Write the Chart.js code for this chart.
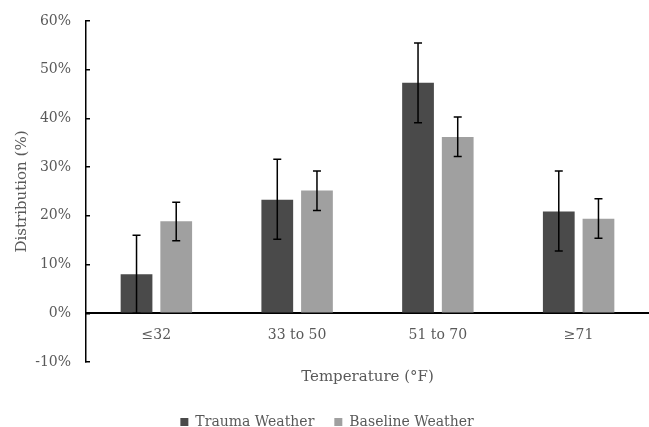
<!DOCTYPE html>
<html>
<head>
<meta charset="utf-8">
<script src="https://cdn.jsdelivr.net/npm/chart.js@4/dist/chart.umd.min.js"></script>
<style>
  html, body { margin: 0; padding: 0; background: #fff; }
  #wrap { width: 649px; height: 427px; position: relative; }
</style>
</head>
<body>
<div id="wrap"><canvas id="chart"></canvas></div>
<script>
// temperature bins (°F)
const tempLabels = ['≤32', '33 to 50', '51 to 70', '≥71'];

// distribution (%) with error bar ends
const traumaValues = [8.0, 23.3, 47.3, 20.9];
const traumaLow    = [0.0, 15.2, 39.1, 12.8];
const traumaHigh   = [16.0, 31.6, 55.5, 29.2];

const baselineValues = [18.9, 25.2, 36.2, 19.4];
const baselineLow    = [14.9, 21.1, 32.2, 15.4];
const baselineHigh   = [22.8, 29.2, 40.3, 23.5];

const errorRanges = [
    { low: traumaLow, high: traumaHigh },
    { low: baselineLow, high: baselineHigh }
];

const TEXT = '#595959';
const FONT = "'DejaVu Serif', serif";

// draw the error bars on top of each bar
const errorBarPlugin = {
    id: 'errorBars',
    afterDatasetsDraw(chart) {
        const ctx = chart.ctx;
        const y = chart.scales.y;
        ctx.save();
        ctx.strokeStyle = '#000';
        ctx.lineWidth = 1.5;
        chart.data.datasets.forEach((ds, i) => {
            const meta = chart.getDatasetMeta(i);
            const range = errorRanges[i];
            meta.data.forEach((bar, j) => {
                const top = y.getPixelForValue(range.high[j]);
                const bottom = y.getPixelForValue(range.low[j]);
                ctx.beginPath();
                ctx.moveTo(bar.x, top); ctx.lineTo(bar.x, bottom);
                ctx.moveTo(bar.x - 4, top); ctx.lineTo(bar.x + 4, top);
                ctx.moveTo(bar.x - 4, bottom); ctx.lineTo(bar.x + 4, bottom);
                ctx.stroke();
            });
        });
        ctx.restore();
    }
};

new Chart(document.getElementById('chart'), {
    type: 'bar',
    data: {
        labels: tempLabels,
        datasets: [
            { label: 'Trauma Weather', data: traumaValues, backgroundColor: '#4a4a4a' },
            { label: 'Baseline Weather', data: baselineValues, backgroundColor: '#a0a0a0' }
        ]
    },
    options: {
        responsive: true,
        maintainAspectRatio: false,
        animation: false,
        categoryPercentage: 0.564,
        barPercentage: 0.8,
        layout: { padding: { left: 0, right: -5, top: 21, bottom: -12 } },
        plugins: {
            tooltip: { enabled: false },
            legend: {
                position: 'bottom',
                // empty title only to push the legend row down below the axis title
                title: { display: true, text: '', font: { size: 10 }, padding: { top: 21, bottom: 0 } },
                labels: {
                    boxWidth: 8, boxHeight: 8, padding: 20,
                    color: TEXT, font: { family: FONT, size: 14 }
                }
            }
        },
        scales: {
            x: {
                position: { y: 0 },
                grid: { display: true, drawOnChartArea: false, drawTicks: false },
                border: { display: true, color: '#000', width: 2 },
                ticks: { color: TEXT, font: { family: FONT, size: 14 }, padding: 14 },
                title: {
                    display: true, text: 'Temperature (°F)',
                    color: TEXT, font: { family: FONT, size: 15 },
                    padding: { top: 10, bottom: 0 }
                }
            },
            y: {
                min: -10, max: 60,
                afterFit(scale) {
                    scale.width = 86;
                    // the label padding is only horizontal here, not above the top tick
                    scale.paddingTop = 0;
                    scale.paddingBottom = 0;
                },
                grid: { display: true, drawOnChartArea: false, drawTicks: true, tickLength: -4, color: '#000', lineWidth: 1.5 },
                border: { display: true, color: '#000', width: 1.5 },
                ticks: {
                    stepSize: 10, padding: 19,
                    color: TEXT, font: { family: FONT, size: 14 },
                    callback: v => v + '%'
                },
                title: {
                    display: true, text: 'Distribution (%)',
                    color: TEXT, font: { family: FONT, size: 15 },
                    padding: { top: 13, bottom: 0 }
                }
            }
        }
    },
    plugins: [errorBarPlugin]
});
</script>
</body>
</html>
